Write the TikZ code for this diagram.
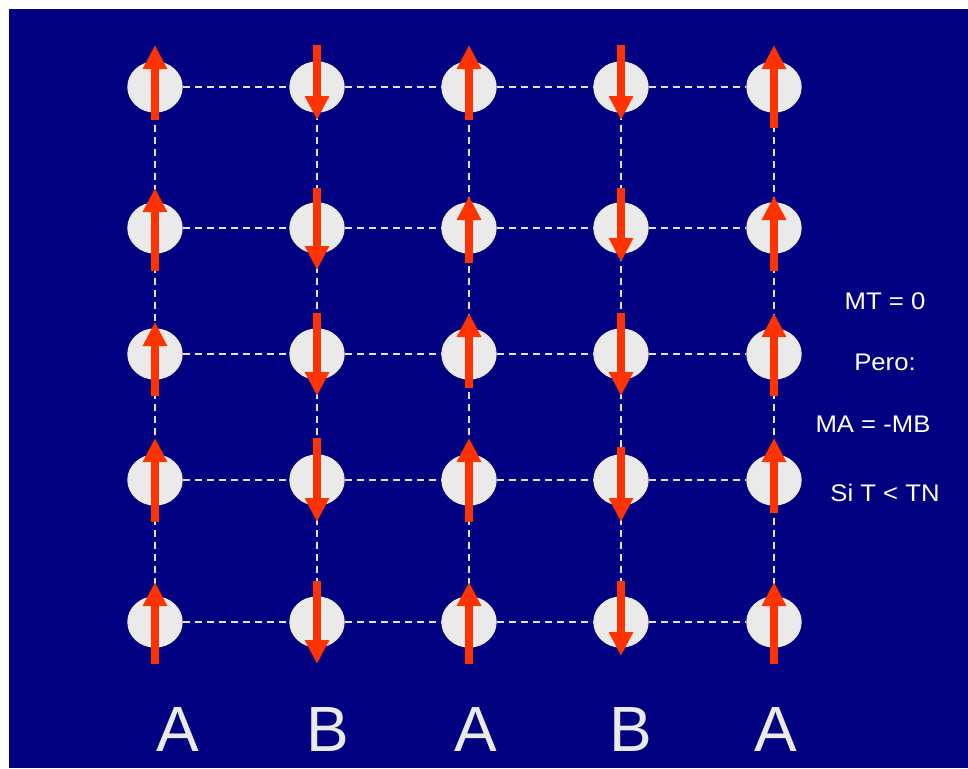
\documentclass[tikz,border=0pt]{standalone}
\usepackage{fontspec}
\setmainfont{Liberation Sans}
\newfontfamily\notefont[FakeStretch=1.07]{Liberation Sans}
\usetikzlibrary{arrows.meta,calc,shapes.geometric}
\definecolor{AFNavy}{HTML}{000080}
\definecolor{AFSite}{HTML}{EAEAEA}
\definecolor{AFSpin}{HTML}{FF3300}
\definecolor{AFBond}{HTML}{E2E2EC}
\tikzset{
  site/.style={ellipse,fill=AFSite,inner sep=0pt,minimum width=55.4pt,minimum height=51.3pt},
  bond/.style={AFBond,line width=1.8pt,dash pattern=on 7pt off 5pt},
  spin/.style={AFSpin,line width=8pt,-{Triangle[length=24pt,width=23pt]}},
  note/.style={text=white,anchor=base,font=\notefont\fontsize{24}{28}\selectfont},
  sublattice/.style={text=AFSite,anchor=base,font=\fontsize{64}{70}\selectfont},
}
\newcommand{\spinup}[3]{\draw[spin] ($(#1)+(0,#3)$) -- ($(#1)+(0,#2)$);}
\newcommand{\spindown}[3]{\draw[spin] ($(#1)+(0,#2)$) -- ($(#1)+(0,#3)$);}
\begin{document}
\begin{tikzpicture}[x=1pt,y=-1pt]
    \useasboundingbox (0,0) rectangle (968,768);
    \fill[white] (0,0) rectangle (968,768);
    \fill[AFNavy] (9,9) rectangle (968,768);

    % the square lattice, rows top to bottom
    \foreach \c/\x in {1/155,2/317,3/469,4/621,5/774}
      \foreach \r/\y in {1/87,2/228,3/354,4/480,5/622}
        \node[site] (s\r\c) at (\x,\y) {};
    \foreach \r in {1,...,5}
      \foreach \c/\n in {1/2,2/3,3/4,4/5}
        \draw[bond] (s\r\c) -- (s\r\n);
    \foreach \c in {1,...,5}
      \foreach \r/\n in {1/2,2/3,3/4,4/5}
        \draw[bond] (s\r\c) -- (s\n\c);

    % spins: A up, B down
    \spinup{s11}{-42}{33}\spindown{s12}{-42}{33}\spinup{s13}{-42}{33}\spindown{s14}{-42}{33}\spinup{s15}{-42}{41}
    \spinup{s21}{-40}{43}\spindown{s22}{-40}{42}\spinup{s23}{-32}{35}\spindown{s24}{-40}{34}\spinup{s25}{-32}{43}
    \spinup{s31}{-32}{42}\spindown{s32}{-41}{42}\spinup{s33}{-41}{34}\spindown{s34}{-41}{42}\spinup{s35}{-41}{42}
    \spinup{s41}{-42}{42}\spindown{s42}{-42}{42}\spinup{s43}{-42}{42}\spindown{s44}{-33}{42}\spinup{s45}{-42}{33}
    \spinup{s51}{-40}{42}\spindown{s52}{-41}{42}\spinup{s53}{-40}{42}\spindown{s54}{-41}{34}\spinup{s55}{-40}{42}

    % sublattice letters
    \node[sublattice] (la1) at (178,751) {A};
    \node[sublattice] (lb1) at (328,751) {B};
    \node[sublattice] (la2) at (476,751) {A};
    \node[sublattice] (lb2) at (631,751) {B};
    \node[sublattice] (la3) at (776,751) {A};

    % conditions
    \node[note] (mt) at (885,309) {MT = 0};
    \node[note] (pero) at (885,370) {Pero:};
    \node[note] (mab) at (873,432) {MA = -MB};
    \node[note] (tn) at (885,501) {Si T < TN};
\end{tikzpicture}
\end{document}
